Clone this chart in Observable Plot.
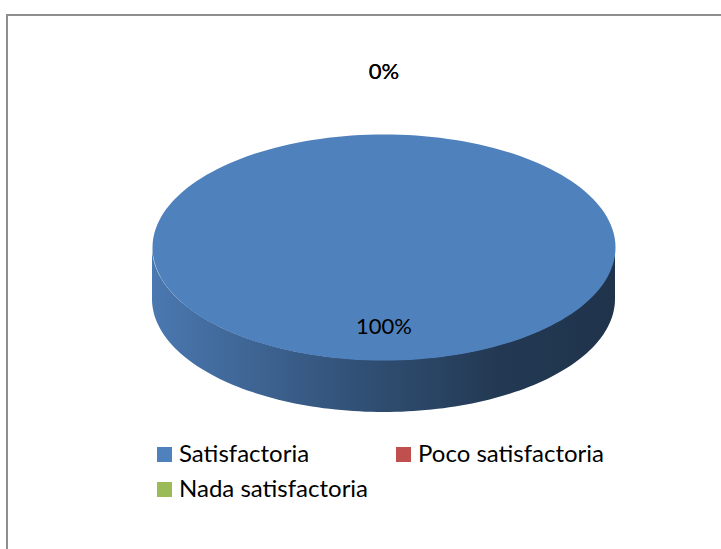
<!DOCTYPE html>
<html>
<head>
<meta charset="utf-8">
<script src="https://cdn.jsdelivr.net/npm/d3@7"></script>
<script src="https://cdn.jsdelivr.net/npm/@observablehq/plot@0.6"></script>
<style>
  html, body { margin: 0; padding: 0; background: #fff; overflow: hidden; width: 721px; height: 549px; }
  body { position: relative; }
  #frame { position: absolute; left: 6px; top: 14px; width: 900px; height: 700px; border-left: 2px solid #8e8e8e; border-top: 2px solid #8e8e8e; }
  #chart { position: absolute; left: 0; top: 0; }
  #legend { position: absolute; left: 157px; top: 435px; display: grid; grid-template-columns: 239px auto; grid-auto-rows: 35px; font-family: Lato, "Open Sans", sans-serif; font-size: 24px; line-height: 35px; color: #000; }
  .item { display: flex; align-items: baseline; }
  .sw { width: 15px; height: 15px; margin-right: 7px; flex: none; }
</style>
</head>
<body>
<div id="frame"></div>
<div id="chart"></div>
<div id="legend"></div>
<script>
const categories = ["Satisfactoria", "Poco satisfactoria", "Nada satisfactoria"];
const values = [100, 0, 0];
const colors = ["#4f81bd", "#c0504d", "#9bbb59"];
const labels = ["100%", "0%", "0%"];

const depth = 0.46;
const arcs = d3.pie().sort(null).value(d => d)(values);

// top face polygons
const topPts = [];
arcs.forEach((a, i) => {
  topPts.push({i, x: 0, y: 0});
  const n = 180;
  for (let k = 0; k <= n; k++) {
    const t = a.startAngle + (a.endAngle - a.startAngle) * k / n;
    topPts.push({i, x: Math.sin(t), y: -Math.cos(t)});
  }
});

// side (front half only)
const sidePts = [];
arcs.forEach((a, i) => {
  const s = Math.max(a.startAngle, Math.PI / 2), e = Math.min(a.endAngle, 3 * Math.PI / 2);
  if (e <= s) return;
  const n = 120;
  for (let k = 0; k <= n; k++) {
    const t = s + (e - s) * k / n;
    sidePts.push({i, x: Math.sin(t), y1: -Math.cos(t), y2: -Math.cos(t) + depth});
  }
});

// labels
const labelPts = arcs.map((a, i) => {
  const m = (a.startAngle + a.endAngle) / 2;
  const r = values[i] > 0 ? 0.7 : 1.55;
  return {i, text: labels[i], x: Math.sin(m) * r, y: -Math.cos(m) * r};
});

const defs = () => {
  const d = d3.create("svg:defs");
  colors.forEach((c, i) => {
    const g = d.append("linearGradient").attr("id", "side" + i).attr("x1", 0).attr("x2", 1).attr("y1", 0).attr("y2", 0);
    const stops = [[0, 0.2], [0.45, 1.35], [0.75, 2.3], [1, 2.6]];
    stops.forEach(([o, k]) => g.append("stop").attr("offset", o).attr("stop-color", d3.color(c).darker(k).formatHex()));
  });
  return d.node();
};

const chart = Plot.plot({
  width: 721,
  height: 549,
  margin: 0,
  x: {domain: [-1, 1], range: [152, 615], axis: null},
  y: {domain: [-1, 1], range: [134, 360], axis: null},
  marks: [
    defs,
    Plot.areaY(sidePts, {x: "x", y1: "y1", y2: "y2", z: "i", fill: d => `url(#side${d.i})`, stroke: "none"}),
    Plot.line(topPts, {x: "x", y: "y", z: "i", fill: d => colors[d.i], stroke: "none", curve: "linear-closed"}),
    Plot.text(labelPts, {x: "x", y: "y", text: "text", fill: "#000", fontSize: 22, fontFamily: "Lato, 'Open Sans', sans-serif", textAnchor: "middle", lineAnchor: "middle"})
  ]
});
document.getElementById("chart").appendChild(chart);

const legend = d3.select("#legend");
categories.forEach((c, i) => {
  const it = legend.append("div").attr("class", "item");
  it.append("div").attr("class", "sw").style("background", colors[i]);
  it.append("span").text(c);
});
</script>
</body>
</html>
